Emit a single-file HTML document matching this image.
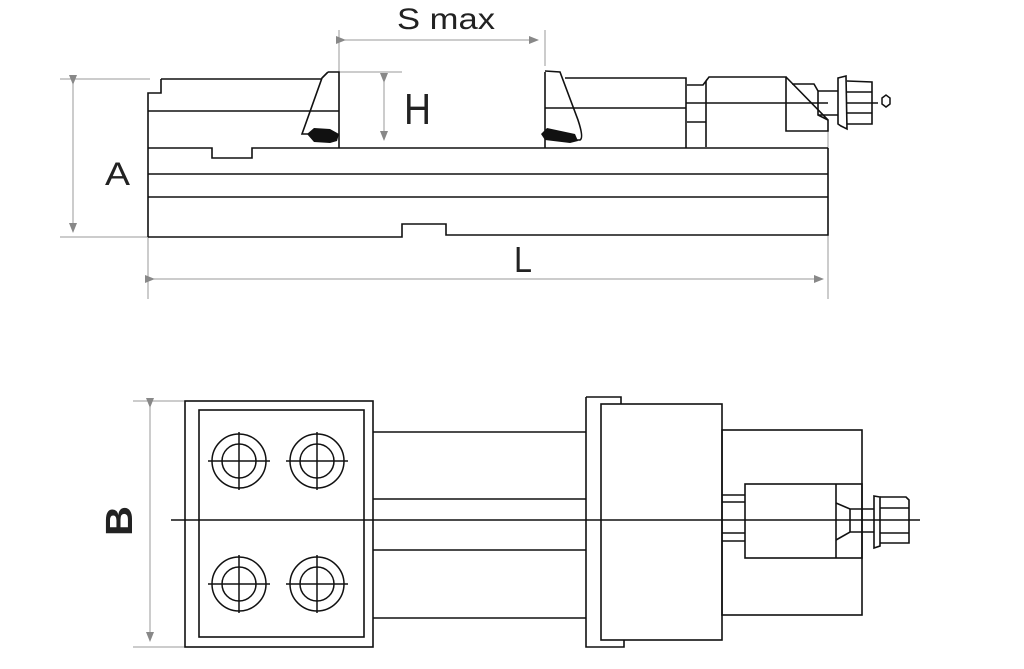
<!DOCTYPE html>
<html><head><style>html,body{margin:0;padding:0;background:#fff}svg{display:block}</style></head>
<body>
<svg width="1024" height="669" viewBox="0 0 1024 669" xmlns="http://www.w3.org/2000/svg">
<defs>
<marker id="ar" markerWidth="10" markerHeight="8" refX="9" refY="4" orient="auto" markerUnits="userSpaceOnUse"><path d="M0,0 L10,4 L0,8 Z" fill="#888"/></marker>
</defs>
<g fill="none" stroke="#999" stroke-width="1">
<!-- S max -->
<line x1="339" y1="30" x2="339" y2="148"/>
<line x1="545" y1="30" x2="545" y2="66"/>
<line x1="345" y1="40" x2="538" y2="40" marker-end="url(#ar)" marker-start="url(#ar)"/>
<!-- H -->
<line x1="339" y1="72" x2="402" y2="72"/>
<line x1="384" y1="82" x2="384" y2="140" marker-end="url(#ar)" marker-start="url(#ar)"/>
<!-- A -->
<line x1="60" y1="79" x2="150" y2="79"/>
<line x1="60" y1="237" x2="150" y2="237"/>
<line x1="73" y1="84" x2="73" y2="232" marker-end="url(#ar)" marker-start="url(#ar)"/>
<!-- L -->
<line x1="148" y1="237" x2="148" y2="299"/>
<line x1="828" y1="120" x2="828" y2="299"/>
<line x1="154" y1="279" x2="823" y2="279" marker-end="url(#ar)" marker-start="url(#ar)"/>
<!-- B -->
<line x1="133" y1="401" x2="185" y2="401"/>
<line x1="133" y1="647" x2="185" y2="647"/>
<line x1="150" y1="407" x2="150" y2="641" marker-end="url(#ar)" marker-start="url(#ar)"/>
</g>
<marker id="dummy"/>
<style>.s path{}</style>
<g fill="none" stroke="#111" stroke-width="1.6" stroke-linejoin="miter">
<!-- top view body -->
<path d="M161,79 L321,79"/>
<path d="M148,237 L148,93 L161,93 L161,79"/>
<path d="M148,111 L339,111"/>
<path d="M148,148 L212,148 L212,158 L252,158 L252,148 L828,148"/>
<path d="M148,174 L828,174"/>
<path d="M148,197 L828,197"/>
<path d="M148,237 L402,237 L402,224 L446,224 L446,235 L828,235 L828,148"/>
<!-- left jaw -->
<path d="M328,72 L339,72 L339,148"/>
<path d="M328,72 L322,78 L302,134 L310,134"/>
<!-- right jaw -->
<path d="M545,72 L545,148"/>
<path d="M545,71 L560,72 L578,120 Q584,138 580,140 L574,140"/>
<path d="M565,78 L686,78 L686,148"/>
<path d="M545,108 L686,108"/>
<path d="M686,103 L828,103"/>
<path d="M687,85 L703,85 L706,81 L706,147"/>
<path d="M687,122 L706,122"/>
<path d="M706,81 L709,77 L786,77 L786,131 L828,131 L828,120 L786,77"/>
<path d="M792,84 L814,84 L818,91 L818,115 L828,120"/>
<path d="M818,91 L838,91"/>
<path d="M818,115 L838,115"/>
<path d="M838,78 L846,76 L847,129 L841,126 L838,124 Z"/>
<path d="M847,81 L872,82 L872,124 L847,124"/>
<path d="M847,92 L872,92 M847,103 L878,103 M847,113 L872,113"/>
<polygon points="882,98 886,95 890,98 890,104 886,107 882,104" stroke-width="1.5"/>
<!-- bottom view -->
<rect x="185" y="401" width="188" height="246"/>
<rect x="199" y="410" width="165" height="227"/>
<path d="M373,432 L586,432 M373,499 L586,499 M373,550 L586,550 M373,618 L586,618"/>
<path d="M171,520 L920,520"/>
<path d="M586,397 L621,397 L621,404 M586,397 L586,647 L624,647 L624,640"/>
<rect x="601" y="404" width="121" height="236"/>
<rect x="722" y="430" width="140" height="185"/>
<rect x="745" y="484" width="117" height="74"/>
<path d="M836,484 L836,558"/>
<path d="M722,495 L745,495 M722,502 L745,502 M722,533 L745,533 M722,541 L745,541"/>
<path d="M836,503 L850,509 L874,509 M836,540 L850,532 L874,532 M850,509 L850,532"/>
<path d="M874,496 L880,497 L880,546 L874,548 Z"/>
<path d="M880,497 L906,497 L909,500 L909,543 L880,543 M880,508 L909,508 M880,533 L909,533"/>
</g>
<g fill="#111">
<path d="M307,134 L314,128 L330,129 L339,134 L337,141 L330,143 L314,142 Z"/>
<path d="M541,134 L547,128 L575,134 L578,141 L570,143 L545,140 Z"/>
</g>
<g fill="none" stroke="#111" stroke-width="1.5">
<g id="h1"><circle cx="239" cy="461" r="27"/><circle cx="239" cy="461" r="17"/><path d="M208,461 L270,461 M239,432 L239,490"/></g>
<circle cx="317" cy="461" r="27"/><circle cx="317" cy="461" r="17"/><path d="M286,461 L348,461 M317,432 L317,490"/>
<circle cx="239" cy="584" r="27"/><circle cx="239" cy="584" r="17"/><path d="M208,584 L270,584 M239,555 L239,613"/>
<circle cx="317" cy="584" r="27"/><circle cx="317" cy="584" r="17"/><path d="M286,584 L348,584 M317,555 L317,613"/>
</g>
<g font-family="'Liberation Sans', sans-serif" fill="#222">
<text x="397" y="29" font-size="30" textLength="98" lengthAdjust="spacingAndGlyphs">S max</text>
<text x="404" y="124" font-size="44" textLength="27" lengthAdjust="spacingAndGlyphs">H</text>
<text x="105" y="185" font-size="32" textLength="25" lengthAdjust="spacingAndGlyphs">A</text>
<text x="514" y="272" font-size="36" textLength="18" lengthAdjust="spacingAndGlyphs">L</text>
<text transform="translate(132,536) rotate(-90)" font-size="38" font-weight="bold" textLength="30" lengthAdjust="spacingAndGlyphs">B</text>
</g>
</svg>
</body></html>
